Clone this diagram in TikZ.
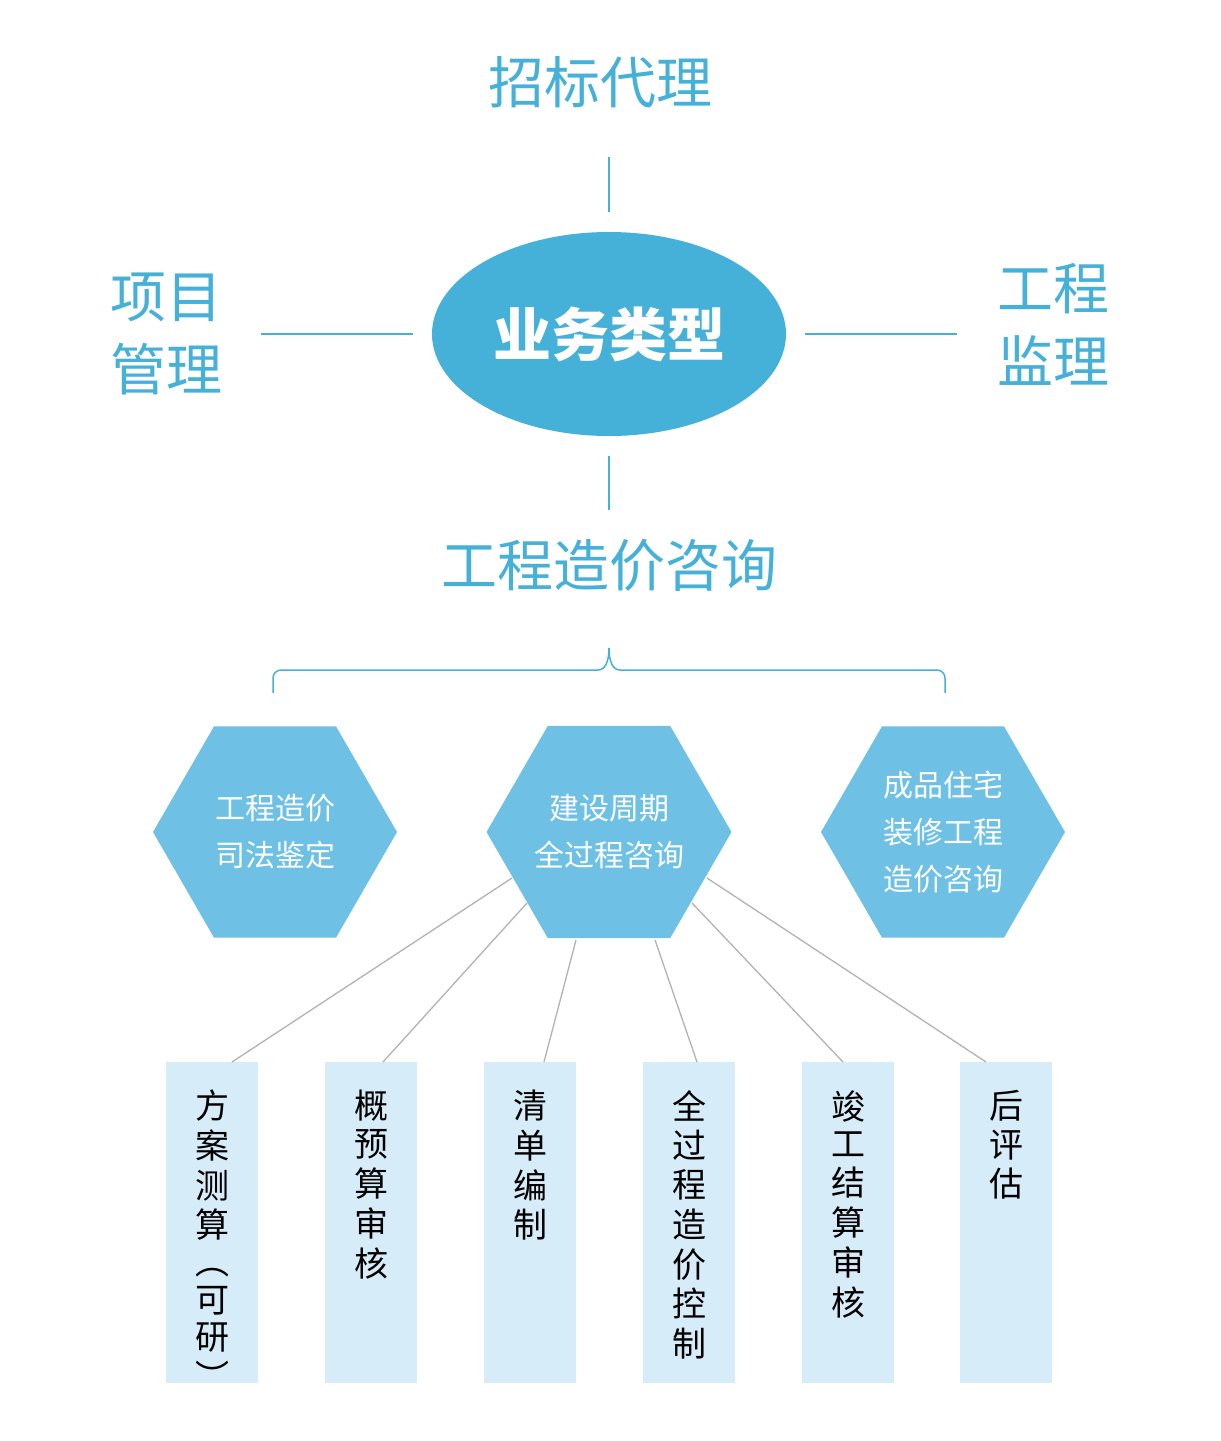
\documentclass[tikz,border=0pt]{standalone}
\usepackage{fontspec}
\setmainfont{Noto Sans CJK SC}
\usetikzlibrary{shapes.geometric,positioning}
\definecolor{mainblue}{HTML}{45B0D8}
\definecolor{hexblue}{HTML}{6EC1E4}
\definecolor{paleblue}{HTML}{D6ECF8}
\newcommand{\vstack}[1]{\begin{tabular}{@{}c@{}}#1\end{tabular}}
\tikzset{
  headtext/.style={text=mainblue,font=\fontsize{56}{66}\selectfont,align=center},
  spoke/.style={mainblue,line width=1.5pt},
  hexbox/.style={regular polygon,regular polygon sides=6,shape border rotate=0,fill=hexblue,
    minimum size=244pt,inner sep=0pt,text=white,font=\fontsize{30}{47}\selectfont,align=center},
  barbox/.style={fill=paleblue,minimum width=92pt,minimum height=321pt,anchor=north},
  bartext/.style={font=\fontsize{34}{37}\selectfont,anchor=north,inner sep=0pt},
  leg/.style={gray!60,line width=1.3pt}
}
\begin{document}
\begin{tikzpicture}[x=1pt,y=-1pt]
  \useasboundingbox (0,0) rectangle (1221,1441);

  \node[ellipse,fill=mainblue,minimum width=354pt,minimum height=204pt,text=white,
    font=\bfseries\fontsize{58}{60}\selectfont] (core) at (609,334) {业务类型};

  \node[headtext] (bid) at (600,82) {招标代理};
  \node[headtext,font=\fontsize{56}{73}\selectfont] (pm) at (166,334) {项目\\管理};
  \node[headtext,font=\fontsize{56}{73}\selectfont] (sup) at (1053,324) {工程\\监理};
  \node[headtext] (cost) at (609,565) {工程造价咨询};

  \draw[spoke] (609,157) -- (609,212);
  \draw[spoke] (609,456) -- (609,510);
  \draw[spoke] (261,334) -- (413,334);
  \draw[spoke] (805,334) -- (957,334);

  % brace
  \draw[mainblue,line width=1.5pt] (273,693) -- (273,678) arc (180:270:8) -- (598,670)
    .. controls (605,670) and (609,662) .. (609,648)
    .. controls (609,662) and (613,670) .. (620,670) -- (937,670) arc (270:360:8) -- (945,693);

  \node[hexbox] (h1) at (275,832) {工程造价\\司法鉴定};
  \node[hexbox] (h2) at (609,832) {建设周期\\全过程咨询};
  \node[hexbox] (h3) at (943,832) {成品住宅\\装修工程\\造价咨询};

  \foreach \i/\x/\t in {1/212/{方\\案\\测\\算\\︵\\可\\研\\︶},2/371/{概\\预\\算\\审\\核},
      3/530/{清\\单\\编\\制},4/689/{全\\过\\程\\造\\价\\控\\制},
      5/848/{竣\\工\\结\\算\\审\\核},6/1006/{后\\评\\估}}{
    \node[barbox] (b\i) at (\x,1062) {};
    \node[bartext] (t\i) at (\x,1090) {\vstack{\t}};
  }

  \coordinate (s1) at (512,878); \coordinate (s2) at (527,903); \coordinate (s3) at (576,940);
  \coordinate (s4) at (655,940); \coordinate (s5) at (692,903); \coordinate (s6) at (707,878);
  \draw[leg] (s1) -- ([xshift=20pt]b1.north);
  \draw[leg] (s2) -- ([xshift=12pt]b2.north);
  \draw[leg] (s3) -- ([xshift=14pt]b3.north);
  \draw[leg] (s4) -- ([xshift=8pt]b4.north);
  \draw[leg] (s5) -- ([xshift=-5pt]b5.north);
  \draw[leg] (s6) -- ([xshift=-20pt]b6.north);
\end{tikzpicture}
\end{document}
